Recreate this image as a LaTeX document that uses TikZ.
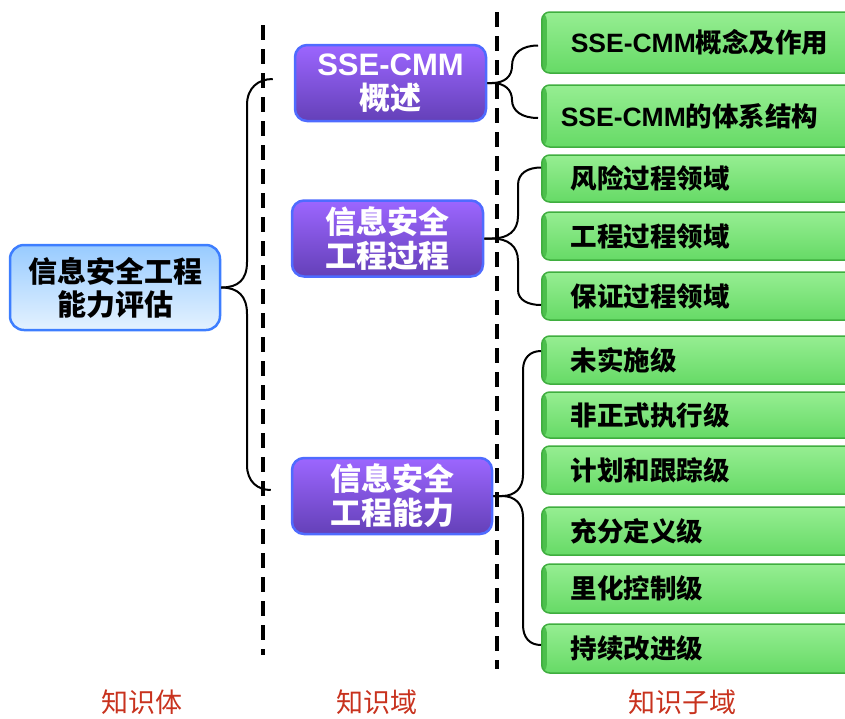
\documentclass[tikz,border=0pt]{standalone}
\usepackage{fontspec}
\setmainfont{Noto Sans CJK SC}
\newfontfamily\lat{Liberation Sans}
\usetikzlibrary{calc}
\definecolor{mainblue}{HTML}{3D7EFF}
\definecolor{maintop}{HTML}{98CBFF}
\definecolor{mainbot}{HTML}{E4F2FF}
\definecolor{purpborder}{HTML}{4F6BFF}
\definecolor{purptop}{HTML}{9C66FF}
\definecolor{purpbot}{HTML}{6440B8}
\definecolor{gborder}{HTML}{3FAE3F}
\definecolor{gtop}{HTML}{96EE92}
\definecolor{gbot}{HTML}{66DA66}
\definecolor{gdark}{HTML}{4CBF4C}
\definecolor{labred}{HTML}{C8321E}
\begin{document}
\begin{tikzpicture}[x=1pt,y=-1pt,
  mainbox/.style={draw=mainblue, line width=2.5pt, rounded corners=14pt,
    top color=maintop, bottom color=mainbot, minimum width=210pt,
    minimum height=85pt, align=center, inner sep=0pt,
    font=\fontsize{29}{33}\selectfont\bfseries},
  purpbox/.style={draw=purpborder, line width=2.5pt, rounded corners=12pt,
    top color=purptop, bottom color=purpbot, minimum height=76pt,
    align=center, inner sep=0pt, text=white,
    font=\fontsize{31}{34}\selectfont\bfseries},
  gbox/.style={anchor=west, draw=gborder, line width=1.5pt, rounded corners=8pt,
    top color=gtop, bottom color=gbot, text width=290pt, align=left,
    inner xsep=29pt, inner ysep=0pt,
    font=\fontsize{26.5}{30}\selectfont\bfseries,
    path picture={\fill[gdark] (path picture bounding box.north west)
      rectangle ([xshift=5pt]path picture bounding box.south west);}},
  brace/.style={draw=black, line width=2pt},
  divider/.style={draw=black, line width=3.5pt, dash pattern=on 15pt off 9pt},
  lab/.style={text=labred, font=\fontsize{27}{30}\selectfont}
]
\useasboundingbox (0,0) rectangle (845,718);

% main node
\node[mainbox] (main) at (115,287.5) {信息安全工程\\能力评估};

% domain nodes
\node[purpbox, minimum width=191pt] (sse) at (390.5,83) {{\lat\bfseries SSE-CMM}\\概述};
\node[purpbox, minimum width=191pt] (proc) at (387.5,238.5) {信息安全\\工程过程};
\node[purpbox, minimum width=200pt] (cap) at (392,496) {信息安全\\工程能力};

% sub-domain nodes
\node[gbox, minimum height=61pt] (g1) at (541,42.5) {{\lat SSE-CMM}概念及作用};
\node[gbox, minimum height=62pt, inner xsep=19pt] (g2) at (541,116) {{\lat SSE-CMM}的体系结构};
\node[gbox, minimum height=47pt] (g3) at (541,178.5) {风险过程领域};
\node[gbox, minimum height=48pt] (g4) at (541,236) {工程过程领域};
\node[gbox, minimum height=48pt] (g5) at (541,296) {保证过程领域};
\node[gbox, minimum height=48pt] (g6) at (541,360) {未实施级};
\node[gbox, minimum height=46pt] (g7) at (541,415) {非正式执行级};
\node[gbox, minimum height=48pt] (g8) at (541,470) {计划和跟踪级};
\node[gbox, minimum height=48pt] (g9) at (541,531) {充分定义级};
\node[gbox, minimum height=49pt] (g10) at (541,588.5) {里化控制级};
\node[gbox, minimum height=49pt] (g11) at (541,648.5) {持续改进级};

% dividers
\coordinate (d1a) at (263,25);
\coordinate (d1b) at (263,655);
\coordinate (d2a) at (497,12);
\coordinate (d2b) at (497,669);
\draw[divider] (d1a) -- (d1b);
\draw[divider] (d2a) -- (d2b);

% brace 1: main -> domains
\coordinate (b1t) at ($(sse.west)+(-21,-4)$);
\coordinate (b1b) at ($(cap.west)+(-20,-6)$);
\draw[brace] (main.east) .. controls (238,287.5) and (247,280) .. (247,262)
  -- (247,105) .. controls (247,88) and (258,79) .. (b1t);
\draw[brace] (main.east) .. controls (238,287.5) and (247,296) .. (247,314)
  -- (247,465) .. controls (247,482) and (258,490) .. (b1b);

% brace 2: sse -> g1,g2
\coordinate (b2t) at ($(g1.west)+(-3,3)$);
\coordinate (b2b) at ($(g2.west)+(-3,2)$);
\draw[brace] (sse.east) -- (492,83) .. controls (505,83) and (512,76) .. (512,66)
  .. controls (512,53) and (522,45.5) .. (b2t);
\draw[brace] (sse.east) -- (492,83) .. controls (505,83) and (512,90) .. (512,100)
  .. controls (512,111) and (522,118) .. (b2b);

% brace 3: proc -> g3..g5
\coordinate (b3t) at ($(g3.west)+(0,-11)$);
\coordinate (b3b) at ($(g5.west)+(0,9)$);
\draw[brace] (proc.east) -- (492,238.5) .. controls (508,238.5) and (518,231) .. (518,216)
  -- (518,185) .. controls (518,173) and (528,167.5) .. (b3t);
\draw[brace] (proc.east) -- (492,238.5) .. controls (508,238.5) and (518,246) .. (518,261)
  -- (518,290) .. controls (518,300) and (528,305) .. (b3b);

% brace 4: cap -> g6..g11
\coordinate (b4t) at ($(g6.west)+(0,-9)$);
\coordinate (b4b) at ($(g11.west)+(0,-3.5)$);
\draw[brace] (cap.east) -- (502,496) .. controls (515,496) and (523,488) .. (523,475)
  -- (523,370) .. controls (523,358) and (530,351) .. (b4t);
\draw[brace] (cap.east) -- (502,496) .. controls (515,496) and (523,504) .. (523,517)
  -- (523,625) .. controls (523,638) and (530,645) .. (b4b);

% column labels
\node[lab] (l1) at (142,702) {知识体};
\node[lab] (l2) at (377,702) {知识域};
\node[lab] (l3) at (682,702) {知识子域};
\end{tikzpicture}
\end{document}
